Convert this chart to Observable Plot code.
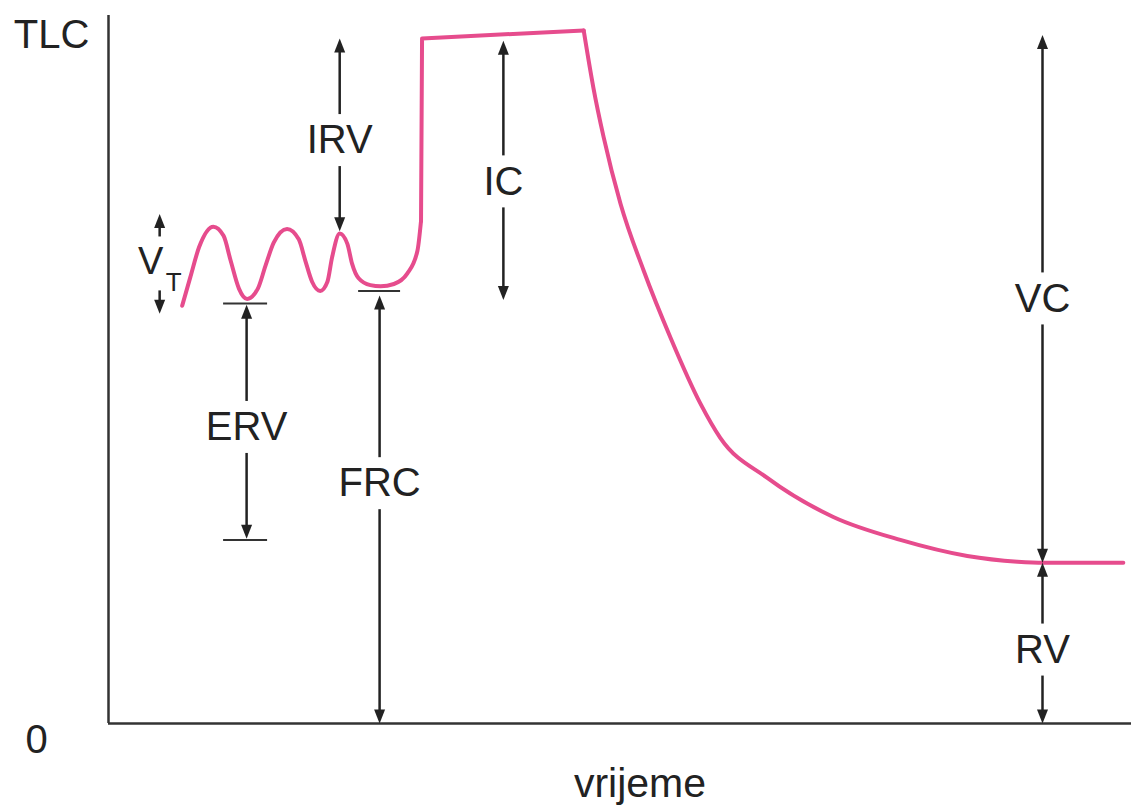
<!DOCTYPE html>
<html><head><meta charset="utf-8">
<script src="https://cdn.jsdelivr.net/npm/d3@7"></script>
<script src="https://cdn.jsdelivr.net/npm/@observablehq/plot@0.6"></script>
<style>body{margin:0;background:#fff} #chart svg{display:block}</style>
</head><body><div id="chart"></div>
<script>
// Spirogram: volume (L) vs time (s)
// quiet breathing
const waveT = [1.44, 1.60, 1.77, 2.05, 2.25, 2.39, 2.55, 2.71, 2.92, 3.07, 3.23, 3.49, 3.72, 3.85, 3.98, 4.14, 4.28, 4.37, 4.52, 4.67, 4.76, 4.89, 5.12, 5.32, 5.58, 5.84, 6.04, 6.11];
const waveV = [3.64, 3.89, 4.15, 4.33, 4.25, 4.03, 3.79, 3.70, 3.79, 3.99, 4.19, 4.31, 4.22, 4.03, 3.85, 3.77, 3.85, 4.06, 4.27, 4.18, 4.01, 3.88, 3.82, 3.81, 3.83, 3.92, 4.12, 4.38];
// maximal inspiration and hold
const holdT = [6.11, 6.13, 9.29];
const holdV = [4.38, 5.97, 6.04];
// maximal expiration
const expT = [9.29, 9.48, 9.68, 10.01, 10.46, 10.99, 11.57, 11.96, 12.88, 14.17, 15.48, 16.79, 17.77, 18.28, 19.84];
const expV = [6.04, 5.54, 5.11, 4.53, 3.95, 3.36, 2.79, 2.49, 2.14, 1.80, 1.60, 1.46, 1.41, 1.40, 1.40];

// annotated volumes
const annLabel  = ["IRV", "IC", "ERV", "FRC", "VC", "RV"];
const annT      = [4.52, 7.72, 2.70, 5.30, 18.26, 18.26];
const annLabelV = [5.08, 4.72, 2.58, 2.09, 3.70, 0.64];
const annTop    = [5.97, 5.95, 3.65, 3.73, 6.00, 1.40];
const annBottom = [4.29, 3.69, 1.61, 0.00, 1.40, 0.00];

// tidal volume marker
const vtT = 1.0;
const vtUp = [4.24, 4.44];
const vtDown = [3.77, 3.57];

// reference ticks
const tickV  = [3.66, 1.60, 3.77];
const tickT1 = [2.25, 2.25, 4.89];
const tickT2 = [3.11, 3.11, 5.71];

// axis labels
const yTickV = [6, 0];
const yTickLabel = ["TLC", "0"];
const xLabel = "vrijeme";

// ---- build ----
const W = 1131, H = 805, mT = 15, mB = 82, mL = 108, mR = 0;
const yMax = 6.17;
const pxPerV = (H - mT - mB) / yMax;
const gap = 26 / pxPerV;
const inHead = 8 / pxPerV;

const pink = "#e64c8d";
const ink = "#222";
const font = "Liberation Sans, Arial, Helvetica, sans-serif";

const wave = waveT.map((t, i) => ({t, v: waveV[i]}));
const hold = holdT.map((t, i) => ({t, v: holdV[i]}));
const exp = expT.map((t, i) => ({t, v: expV[i]}));

const arrows = [];
annLabel.forEach((l, i) => {
  arrows.push({t: annT[i], from: annLabelV[i] + gap, tip: annTop[i]});
  arrows.push({t: annT[i], from: annLabelV[i] - gap, tip: annBottom[i]});
});
arrows.push({t: vtT, from: vtUp[0], tip: vtUp[1]});
arrows.push({t: vtT, from: vtDown[0], tip: vtDown[1]});
arrows.forEach(a => { a.up = a.tip > a.from; a.shaftEnd = a.up ? a.tip - inHead : a.tip + inHead; });

const ann = annLabel.map((l, i) => ({label: l, t: annT[i], v: annLabelV[i]}));
const ticks = tickV.map((v, i) => ({v, t1: tickT1[i], t2: tickT2[i]}));

const headSymbol = {
  draw(ctx) {
    ctx.moveTo(0, 0);
    ctx.lineTo(-5.5, 14);
    ctx.lineTo(5.5, 14);
    ctx.closePath();
  }
};

const chart = Plot.plot({
  width: W, height: H,
  marginTop: mT, marginBottom: mB, marginLeft: mL, marginRight: mR,
  x: {domain: [0, 20], axis: null},
  y: {domain: [0, yMax], axis: null},
  style: {fontFamily: font, background: "#fff"},
  marks: [
    Plot.ruleX([0], {stroke: "#333", strokeWidth: 2.5}),
    Plot.ruleY([0], {stroke: "#333", strokeWidth: 2.5}),
    Plot.ruleY(ticks, {y: "v", x1: "t1", x2: "t2", stroke: "#333", strokeWidth: 2}),
    Plot.line(wave, {x: "t", y: "v", curve: "monotone-x", stroke: pink, strokeWidth: 4, strokeLinecap: "round"}),
    Plot.line(hold, {x: "t", y: "v", curve: "linear", stroke: pink, strokeWidth: 4, strokeLinecap: "round", strokeLinejoin: "round"}),
    Plot.line(exp, {x: "t", y: "v", curve: "monotone-x", stroke: pink, strokeWidth: 4, strokeLinecap: "round"}),
    Plot.ruleX(arrows, {x: "t", y1: "from", y2: "shaftEnd", stroke: ink, strokeWidth: 2.5}),
    Plot.dot(arrows, {x: "t", y: "tip", symbol: headSymbol, fill: ink, stroke: "none", rotate: d => d.up ? 0 : 180}),
    Plot.text(ann, {x: "t", y: "v", text: "label", fontSize: 40, fill: ink, fontFamily: font, lineAnchor: "middle"}),
    Plot.text(["V"], {x: vtT, y: 4.02, dx: -9, text: d => d, fontSize: 38, fill: ink, fontFamily: font, lineAnchor: "middle"}),
    Plot.text(["T"], {x: vtT, y: 3.84, dx: 14, text: d => d, fontSize: 26, fill: ink, fontFamily: font, lineAnchor: "middle"}),
    Plot.text([yTickLabel[0]], {frameAnchor: "left", y: yTickV[0], dx: -57, text: d => d, fontSize: 40, fill: ink, fontFamily: font, textAnchor: "middle", lineAnchor: "middle"}),
    Plot.text([yTickLabel[1]], {frameAnchor: "left", y: yTickV[1], dx: -72, dy: 17, text: d => d, fontSize: 40, fill: ink, fontFamily: font, textAnchor: "middle", lineAnchor: "middle"}),
    Plot.text([xLabel], {frameAnchor: "bottom", dx: 20, dy: 60, text: d => d, fontSize: 41, fill: ink, fontFamily: font, textAnchor: "middle", lineAnchor: "middle"})
  ]
});
document.getElementById("chart").appendChild(chart);
</script>
</body></html>
